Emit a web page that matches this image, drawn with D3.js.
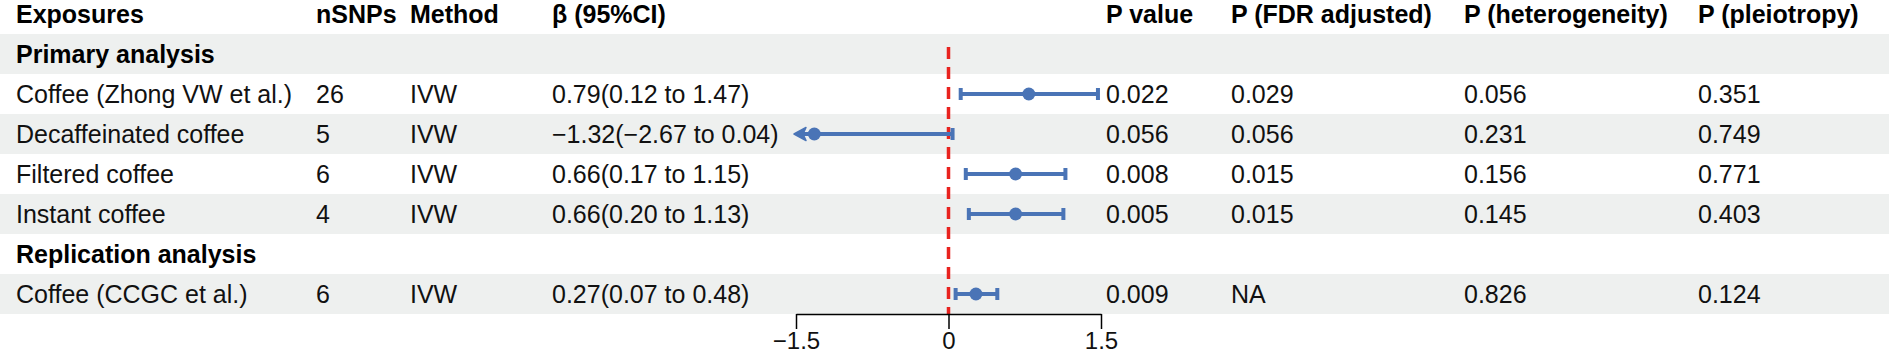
<!DOCTYPE html>
<html>
<head>
<meta charset="utf-8">
<script src="https://cdn.jsdelivr.net/npm/d3@7"></script>
<style>
  html, body { margin: 0; padding: 0; background: #fff; }
  svg { display: block; font-family: 'Liberation Sans', Arial, sans-serif; }
</style>
</head>
<body>
<svg width="1889" height="355"></svg>
<script>
// table data
const headers = ['Exposures', 'nSNPs', 'Method', 'β (95%CI)', 'P value', 'P (FDR adjusted)', 'P (heterogeneity)', 'P (pleiotropy)']
const groupLabels = ['Primary analysis', 'Replication analysis']
const exposures = ['Coffee (Zhong VW et al.)', 'Decaffeinated coffee', 'Filtered coffee', 'Instant coffee', 'Coffee (CCGC et al.)']
const groupOf = [0, 0, 0, 0, 1]
const nSNPs = [26, 5, 6, 4, 6]
const methods = ['IVW', 'IVW', 'IVW', 'IVW', 'IVW']
const beta = [0.79, -1.32, 0.66, 0.66, 0.27]
const lower = [0.12, -2.67, 0.17, 0.20, 0.07]
const upper = [1.47, 0.04, 1.15, 1.13, 0.48]
const pValue = ['0.022', '0.056', '0.008', '0.005', '0.009']
const pFdr = ['0.029', '0.056', '0.015', '0.015', 'NA']
const pHet = ['0.056', '0.231', '0.156', '0.145', '0.826']
const pPleio = ['0.351', '0.749', '0.771', '0.403', '0.124']
const xTicks = [-1.5, 0, 1.5]

const svg = d3.select('svg')
const width = +svg.attr('width')

const colX = [16, 316, 410, 552, 1106, 1231, 1464, 1698]
const fontSize = 25
const blue = '#4a74b6'
const f2 = d3.format('.2f')

// build the row list: group label rows followed by their items
const rows = []
groupLabels.forEach((label, gi) => {
  rows.push({ type: 'group', label, key: 'g' + gi })
  exposures.forEach((e, i) => {
    if (groupOf[i] === gi) rows.push({ type: 'item', i, key: 'r' + i })
  })
})

const yScale = d3.scaleBand()
  .domain(rows.map(d => d.key))
  .range([34, 314])

const xScale = d3.scaleLinear()
  .domain([-1.5, 1.5])
  .range([796, 1101])

// shaded bands on every other row
svg.append('g').selectAll('rect')
  .data(rows.filter((d, k) => k % 2 === 0))
  .enter().append('rect')
  .attr('x', 0)
  .attr('width', width)
  .attr('y', d => yScale(d.key))
  .attr('height', yScale.bandwidth())
  .attr('fill', '#eef0ef')

// header
svg.append('g').selectAll('text')
  .data(headers)
  .enter().append('text')
  .attr('x', (d, k) => colX[k])
  .attr('y', 23)
  .attr('font-size', fontSize)
  .attr('font-weight', 'bold')
  .text(d => d)

const cy = d => yScale(d.key) + yScale.bandwidth() / 2

// group labels
svg.append('g').selectAll('text')
  .data(rows.filter(d => d.type === 'group'))
  .enter().append('text')
  .attr('x', colX[0])
  .attr('y', d => cy(d) + 9)
  .attr('font-size', fontSize)
  .attr('font-weight', 'bold')
  .text(d => d.label)

// item cells
const items = rows.filter(d => d.type === 'item')
const cellText = i => [
  exposures[i],
  nSNPs[i],
  methods[i],
  `${f2(beta[i])}(${f2(lower[i])} to ${f2(upper[i])})`,
  pValue[i],
  pFdr[i],
  pHet[i],
  pPleio[i]
]

const itemG = svg.append('g').selectAll('g')
  .data(items)
  .enter().append('g')

itemG.selectAll('text')
  .data(d => cellText(d.i).map((t, k) => ({ t, k, y: cy(d) + 9 })))
  .enter().append('text')
  .attr('x', d => colX[d.k])
  .attr('y', d => d.y)
  .attr('font-size', fontSize)
  .attr('fill', '#111')
  .text(d => d.t)

// reference line at zero
svg.append('line')
  .attr('x1', xScale(0))
  .attr('x2', xScale(0))
  .attr('y1', 47)
  .attr('y2', 314)
  .attr('stroke', '#e8231f')
  .attr('stroke-width', 3.5)
  .attr('stroke-dasharray', '12,8')

// confidence intervals
const lo = i => Math.max(lower[i], xScale.domain()[0])
const hi = i => Math.min(upper[i], xScale.domain()[1])

const ci = svg.append('g').selectAll('g')
  .data(items)
  .enter().append('g')
  .attr('fill', blue)
  .attr('stroke', blue)

ci.append('line')
  .attr('x1', d => xScale(lo(d.i)))
  .attr('x2', d => xScale(hi(d.i)))
  .attr('y1', cy)
  .attr('y2', cy)
  .attr('stroke-width', 4)

// caps, only where the interval is not clipped
ci.filter(d => lower[d.i] >= xScale.domain()[0])
  .append('rect')
  .attr('x', d => xScale(lower[d.i]) - 2)
  .attr('y', d => cy(d) - 6)
  .attr('width', 4)
  .attr('height', 12)
  .attr('stroke', 'none')

ci.filter(d => upper[d.i] <= xScale.domain()[1])
  .append('rect')
  .attr('x', d => xScale(upper[d.i]) - 2)
  .attr('y', d => cy(d) - 6)
  .attr('width', 4)
  .attr('height', 12)
  .attr('stroke', 'none')

// arrow heads for clipped intervals
ci.filter(d => lower[d.i] < xScale.domain()[0])
  .append('path')
  .attr('stroke-width', 1.5)
  .attr('stroke-linejoin', 'round')
  .attr('d', d => {
    const x0 = xScale(xScale.domain()[0]) - 2
    const y = cy(d)
    return `M${x0},${y} L${x0 + 12},${y - 6.5} L${x0 + 9},${y} L${x0 + 12},${y + 6.5} Z`
  })

ci.append('circle')
  .attr('cx', d => xScale(beta[d.i]))
  .attr('cy', cy)
  .attr('r', 6.5)
  .attr('stroke', 'none')

// x axis
const xAxis = d3.axisBottom(xScale)
  .tickValues(xTicks)
  .tickFormat(d3.format('~g'))
  .tickSize(15)
  .tickSizeOuter(0)
  .tickPadding(3)

const axisG = svg.append('g')
  .attr('transform', 'translate(0, 314)')
  .call(xAxis)

axisG.selectAll('.domain, .tick line')
  .attr('stroke', '#000')
  .attr('stroke-width', 1.5)

axisG.selectAll('.tick text')
  .attr('font-size', 24)
  .attr('font-family', "'Liberation Sans', Arial, sans-serif")
  .attr('fill', '#111')
</script>
</body>
</html>
